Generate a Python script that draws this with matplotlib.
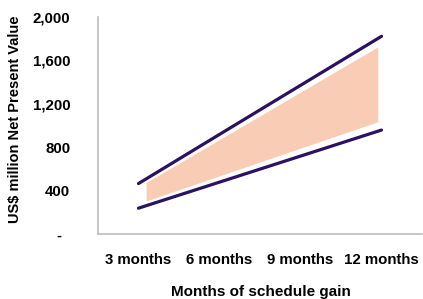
import matplotlib
matplotlib.use("Agg")
import matplotlib.pyplot as plt

categories = ["3 months", "6 months", "9 months", "12 months"]
upper_npv = [465, 918, 1370, 1822]
lower_npv = [238, 478, 718, 958]

# shaded range (hand-drawn band inside the two lines)
band_x = [0.1, 2.96]
band_top = [470, 1720]
band_bottom = [300, 1030]

yticks = [0, 400, 800, 1200, 1600, 2000]
ytick_labels = ["-  ", "400", "800", "1,200", "1,600", "2,000"]

line_color = "#2c1160"
fill_color = "#f9cdb5"
font = "Liberation Sans"

fig = plt.figure(figsize=(4.23, 2.99), dpi=100)
ax = fig.add_axes([98/423, 1-234/299, (422-98)/423, (234-17)/299])

x = list(range(len(categories)))
bx = [band_x[0], band_x[1], band_x[1], band_x[0]]
by = [band_top[0], band_top[1], band_bottom[1], band_bottom[0]]
ax.fill(bx, by, color=fill_color, lw=0)

ax.plot(x, upper_npv, color=line_color, lw=2.3, solid_capstyle="round")
ax.plot(x, lower_npv, color=line_color, lw=2.3, solid_capstyle="round")

ax.set_xlim(-0.5, 3.5)
ax.set_ylim(0, 2000)
ax.set_xticks(x)
ax.set_xticklabels(categories, fontfamily=font, fontweight="bold", fontsize=10.8)
ax.set_yticks(yticks)
ax.set_yticklabels(ytick_labels, fontfamily=font, fontweight="bold", fontsize=10.8)
ax.tick_params(axis="x", length=0, pad=14)
ax.tick_params(axis="y", length=0, pad=20)

for s in ["top", "right"]:
    ax.spines[s].set_visible(False)
for s in ["left", "bottom"]:
    ax.spines[s].set_color("#bdbdbd")
    ax.spines[s].set_linewidth(1.2)

fig.text(261/423, 1-292/299, "Months of schedule gain", ha="center", va="center",
         fontfamily=font, fontweight="bold", fontsize=11)
fig.text(15/423, 1-119/299, "US$ million Net Present Value", ha="center", va="center",
         rotation=90, fontfamily=font, fontweight="bold", fontsize=10.5)

fig.savefig("out.png", dpi=100)
